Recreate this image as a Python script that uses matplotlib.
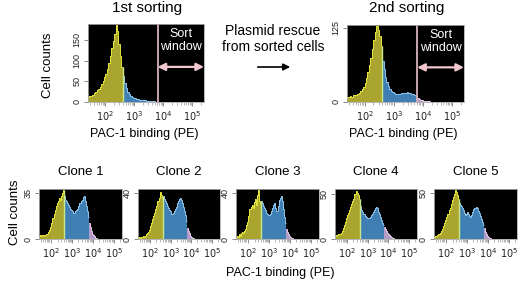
import numpy as np
import matplotlib.pyplot as plt
from matplotlib.patches import FancyArrowPatch
from matplotlib.ticker import FixedLocator, NullFormatter, FixedFormatter

plt.rcParams['font.family'] = ['Liberation Sans', 'DejaVu Sans']

# log10 bin edges of the cytometer histograms (80 bins, 10^1.4 .. 10^5.4)
log_lo, log_hi, n_bins = 1.4, 5.4, 80
gate_yellow = 2.6   # end of yellow (low) gate
gate_sort = 3.8     # start of sort window

# counts per bin
counts_1st = [12, 15, 14, 18, 22, 24, 28, 32, 37, 43, 50, 60, 68, 80, 95, 112, 130, 148, 165, 185,
              172, 140, 110, 85, 62, 45, 33, 25, 19, 15, 12, 10, 9, 8, 7, 6, 5, 5, 4, 4,
              3, 3, 3, 2, 2, 2, 1, 1, 1, 1, 1, 0, 0, 0, 0, 0, 0, 0, 0, 0,
              0, 0, 0, 0, 0, 0, 0, 0, 0, 0, 0, 0, 0, 0, 0, 0, 0, 0, 0, 0]
counts_2nd = [8, 9, 10, 9, 11, 12, 12, 14, 16, 18, 22, 26, 32, 40, 50, 62, 75, 90, 104, 118,
              128, 122, 112, 95, 70, 55, 43, 34, 27, 22, 19, 17, 15, 14, 14, 13, 14, 15, 16, 15,
              16, 17, 15, 16, 14, 13, 12, 10, 7, 5, 4, 3, 2, 2, 1, 1, 1, 0,
              0, 0, 0, 0, 0, 0, 0, 0, 0, 0, 0, 0, 0, 0, 0, 0, 0, 0, 0, 0, 0, 0]
clone_1 = [2, 3, 2, 3, 3, 2, 3, 4, 4, 5, 7, 9, 12, 16, 19, 22, 25, 27, 29, 31,
           30, 33, 35, 37, 33, 30, 29, 27, 26, 24, 23, 22, 21, 20, 20, 21, 22, 23, 25, 27,
           29, 30, 32, 33, 29, 25, 21, 17, 12, 9, 6, 4, 3, 2, 1, 1, 0, 0,
           0, 0, 0, 0, 0, 0, 0, 0, 0, 0, 0, 0, 0, 0, 0, 0, 0, 0, 0, 0, 0, 0]
clone_2 = [1, 2, 1, 2, 2, 3, 2, 3, 4, 5, 6, 8, 11, 14, 17, 20, 23, 26, 29, 33,
           36, 41, 38, 36, 37, 35, 33, 31, 29, 27, 25, 24, 22, 22, 23, 24, 26, 28, 31, 33,
           35, 36, 34, 31, 28, 24, 21, 16, 10, 7, 5, 3, 2, 1, 1, 0, 0, 0,
           0, 0, 0, 0, 0, 0, 0, 0, 0, 0, 0, 0, 0, 0, 0, 0, 0, 0, 0, 0, 0, 0]
clone_3 = [2, 3, 2, 4, 3, 5, 6, 5, 7, 9, 12, 15, 20, 26, 28, 30, 27, 32, 35, 30,
           38, 43, 33, 31, 33, 31, 29, 27, 25, 23, 22, 21, 21, 22, 24, 27, 30, 31, 27, 24,
           29, 34, 36, 37, 33, 26, 19, 14, 9, 6, 4, 3, 2, 1, 1, 0, 0, 0,
           0, 0, 0, 0, 0, 0, 0, 0, 0, 0, 0, 0, 0, 0, 0, 0, 0, 0, 0, 0, 0, 0]
clone_4 = [3, 4, 4, 5, 5, 6, 7, 9, 12, 15, 19, 23, 26, 29, 32, 35, 38, 42, 44, 49,
           53, 51, 48, 44, 36, 32, 30, 28, 27, 25, 24, 23, 23, 23, 24, 26, 28, 30, 32, 34,
           35, 34, 30, 27, 24, 21, 18, 15, 13, 11, 9, 7, 5, 4, 3, 2, 1, 1,
           0, 0, 0, 0, 0, 0, 0, 0, 0, 0, 0, 0, 0, 0, 0, 0, 0, 0, 0, 0, 0, 0]
clone_5 = [2, 3, 3, 4, 5, 5, 7, 9, 11, 14, 17, 20, 24, 27, 31, 34, 38, 42, 45, 49,
           53, 51, 47, 43, 39, 37, 36, 34, 31, 28, 26, 27, 29, 27, 25, 24, 26, 29, 32, 34,
           35, 33, 30, 28, 25, 22, 18, 15, 12, 8, 5, 3, 2, 1, 1, 0, 0, 0,
           0, 0, 0, 0, 0, 0, 0, 0, 0, 0, 0, 0, 0, 0, 0, 0, 0, 0, 0, 0, 0, 0]

top_titles = ['1st sorting', '2nd sorting']
top_counts = [counts_1st, counts_2nd]
top_ylim = [188, 130]
top_yticks = [[0, 50, 100, 150], [0, 125]]

clone_titles = ['Clone 1', 'Clone 2', 'Clone 3', 'Clone 4', 'Clone 5']
clone_counts = [clone_1, clone_2, clone_3, clone_4, clone_5]
clone_ylim = [38, 43.5, 43.5, 55, 54]
clone_yticks = [[0, 35], [0, 40], [0, 40], [0, 50], [0, 50]]

xtick_labels = ['$10^2$', '$10^3$', '$10^4$', '$10^5$']

W, H = 520, 282
fig = plt.figure(figsize=(W / 100, H / 100), dpi=100)


def box(x0, y0, x1, y1):
    return [x0 / W, 1 - y1 / H, (x1 - x0) / W, (y1 - y0) / H]


def pt(x, y):
    return x / W, 1 - y / H


regions = [(log_lo, gate_yellow, '#a9a52e', '#e6e63a'),
           (gate_yellow, gate_sort, '#3f7fb4', '#8ec6ec'),
           (gate_sort, log_hi, '#b49ac6', '#e6cdee')]


def histo(ax, counts, ylim, yticks):
    counts = np.asarray(counts, float)
    edges = np.linspace(log_lo, log_hi, n_bins + 1)
    step = edges[1] - edges[0]
    ax.set_facecolor('black')
    ax.set_xscale('log')
    for lo, hi, fc, ec in regions:
        i0 = int(round((lo - log_lo) / step))
        i1 = int(round((hi - log_lo) / step))
        e = 10 ** edges[i0:i1 + 1]
        ax.stairs(counts[i0:i1], e, fill=True, color=fc, lw=0)
        ax.stairs(counts[i0:i1], e, baseline=None, color=ec, lw=0.7)
    i = int(round((gate_yellow - log_lo) / step))
    ax.vlines(10 ** gate_yellow, 0, max(counts[i - 1], counts[i]), color='#c9e88a', lw=1)
    ax.set_xlim(10 ** log_lo, 10 ** log_hi)
    ax.set_ylim(0, ylim)
    ax.xaxis.set_major_locator(FixedLocator([1e2, 1e3, 1e4, 1e5]))
    ax.xaxis.set_major_formatter(FixedFormatter(xtick_labels))
    minor = [m * 10 ** d for d in range(1, 6) for m in range(2, 10)]
    ax.xaxis.set_minor_locator(FixedLocator([v for v in minor if v < 10 ** log_hi]))
    ax.xaxis.set_minor_formatter(NullFormatter())
    ax.set_yticks(yticks)
    ax.set_yticklabels([str(t) for t in yticks], rotation=90, va='center')
    ax.tick_params(axis='both', which='major', length=3, width=0.6, color='#777777',
                   labelsize=7, pad=2.5, labelcolor='#222222')
    ax.tick_params(axis='y', labelsize=6.5, pad=1.5)
    ax.tick_params(axis='x', which='minor', length=2, width=0.5, color='#999999')
    for s in ax.spines.values():
        s.set_color('#aaaaaa')
        s.set_linewidth(0.6)


# top row
top_boxes = [(88, 24, 204, 102), (347, 25, 464, 102)]
for k in range(2):
    ax = fig.add_axes(box(*top_boxes[k]))
    histo(ax, top_counts[k], top_ylim[k], top_yticks[k])
    ax.axvline(10 ** gate_sort, color='#d9b3bb', lw=1.3)
    ax.annotate('', xy=(10 ** log_hi, 0.45), xytext=(10 ** gate_sort, 0.45),
                xycoords=('data', 'axes fraction'),
                arrowprops=dict(arrowstyle='<|-|>', color='#f2c7cd', lw=1.6,
                                mutation_scale=11, shrinkA=0, shrinkB=0))
    ax.text(10 ** ((gate_sort + log_hi) / 2), 0.79, 'Sort\nwindow', color='white',
            transform=ax.get_xaxis_transform(), ha='center', va='center',
            fontsize=9, linespacing=1.1)
    cx = (top_boxes[k][0] + top_boxes[k][2]) / 2
    fig.text(*pt(cx + 1, 8), top_titles[k], ha='center', va='center', fontsize=11)
    fig.text(*pt(cx - 2, 134), 'PAC-1 binding (PE)', ha='center', va='center', fontsize=9)

fig.text(*pt(48, 65), 'Cell counts', rotation=90, ha='center', va='center', fontsize=9.5)
fig.text(*pt(273, 39), 'Plasmid rescue\nfrom sorted cells', ha='center', va='center',
         fontsize=10, linespacing=1.2)
fig.add_artist(FancyArrowPatch(pt(255, 67), pt(293, 67), transform=fig.transFigure,
                               arrowstyle='-|>', mutation_scale=10, color='black', lw=1.2))

# bottom row
clone_x = [(39, 122), (138, 220), (236, 319), (335, 417), (434, 517)]
for k in range(5):
    x0, x1 = clone_x[k]
    ax = fig.add_axes(box(x0, 189, x1, 239))
    histo(ax, clone_counts[k], clone_ylim[k], clone_yticks[k])
    fig.text(*pt((x0 + x1) / 2, 172), clone_titles[k], ha='center', va='center',
             fontsize=9.5)

fig.text(*pt(15, 212), 'Cell counts', rotation=90, ha='center', va='center', fontsize=9.5)
fig.text(*pt(280, 273), 'PAC-1 binding (PE)', ha='center', va='center', fontsize=9)

fig.savefig('out.png', dpi=100, facecolor='white')
